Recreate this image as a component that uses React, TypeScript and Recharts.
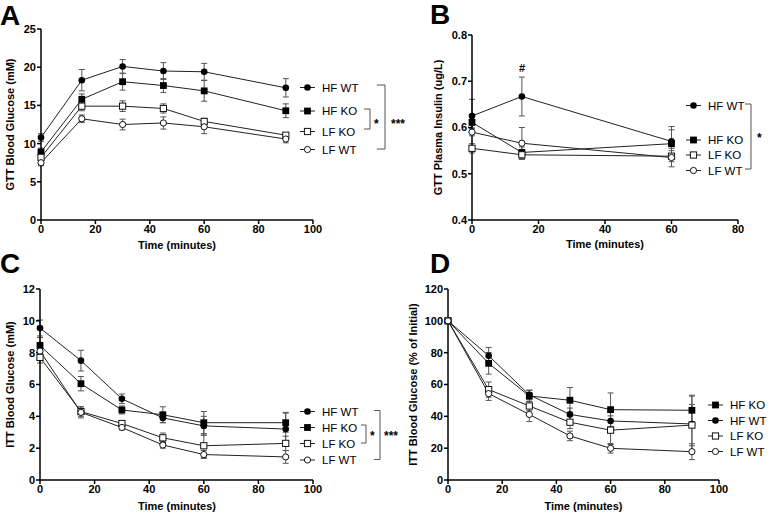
import React from 'react';
import { LineChart, Line, XAxis, YAxis, ErrorBar } from 'recharts';

const FONT = '"Liberation Sans", Arial, Helvetica, sans-serif';

// GTT blood glucose (panel A)
const gttTimes = [0, 15, 30, 45, 60, 90];
const gttHfWt = [10.8, 18.3, 20.1, 19.5, 19.4, 17.3];
const gttHfWtErr = [0.5, 1.4, 0.9, 1.1, 1.1, 1.2];
const gttHfKo = [8.9, 15.8, 18.1, 17.6, 16.9, 14.3];
const gttHfKoErr = [0.5, 0.7, 1.1, 0.9, 1.35, 0.9];
const gttLfKo = [8.2, 14.9, 14.9, 14.6, 12.9, 11.1];
const gttLfKoErr = [0.5, 0.6, 0.7, 0.6, 0.4, 0.3];
const gttLfWt = [7.5, 13.25, 12.5, 12.7, 12.2, 10.6];
const gttLfWtErr = [0.4, 0.5, 0.7, 0.8, 0.9, 0.5];

// GTT plasma insulin (panel B)
const insTimes = [0, 15, 60];
const insHfWt = [0.625, 0.667, 0.57];
const insHfWtErr = [0.036, 0.042, 0.032];
const insHfKo = [0.611, 0.546, 0.565];
const insHfKoErr = [0.012, 0.012, 0.03];
const insLfKo = [0.555, 0.541, 0.538];
const insLfKoErr = [0.01, 0.01, 0.012];
const insLfWt = [0.59, 0.566, 0.535];
const insLfWtErr = [0.008, 0.034, 0.02];

// ITT blood glucose (panel C)
const ittTimes = [0, 15, 30, 45, 60, 90];
const ittHfWt = [9.55, 7.5, 5.1, 3.9, 3.4, 3.2];
const ittHfWtErr = [0.5, 0.65, 0.3, 0.3, 0.6, 1.05];
const ittHfKo = [8.45, 6.05, 4.4, 4.1, 3.6, 3.6];
const ittHfKoErr = [0.5, 0.45, 0.25, 0.5, 0.7, 0.6];
const ittLfKo = [7.7, 4.3, 3.55, 2.65, 2.15, 2.3];
const ittLfKoErr = [0.35, 0.3, 0.15, 0.3, 0.75, 0.45];
const ittLfWt = [8.1, 4.25, 3.3, 2.2, 1.6, 1.45];
const ittLfWtErr = [0.55, 0.35, 0.15, 0.2, 0.25, 0.4];

// ITT % of initial (panel D)
const pctTimes = [0, 15, 30, 45, 60, 90];
const pctHfKo = [100, 73.3, 52.8, 50.1, 44.2, 43.8];
const pctHfKoErr = [0, 6.8, 3.5, 8, 10.5, 9.5];
const pctHfWt = [100, 78.1, 53.5, 41.2, 37.1, 35.2];
const pctHfWtErr = [0, 5.2, 3, 4, 6, 17.5];
const pctLfKo = [100, 56.8, 46.5, 36.3, 31.3, 34.5];
const pctLfKoErr = [0, 4.8, 3, 4, 9, 13];
const pctLfWt = [100, 54.3, 41.2, 27.7, 19.9, 17.8];
const pctLfWtErr = [0, 4.3, 4.5, 3, 3, 5];

type Kind = 'fc' | 'fs' | 'os' | 'oc';

interface Series {
  key: string;
  name: string;
  kind: Kind;
  values: number[];
  errors: number[];
}

const Marker = ({ kind, cx, cy }: { kind: Kind; cx: number; cy: number }) => {
  if (kind === 'fc') return <circle cx={cx} cy={cy} r={3.3} fill="#000" />;
  if (kind === 'oc') return <circle cx={cx} cy={cy} r={3.1} fill="#fff" stroke="#111" strokeWidth={1} />;
  const s = kind === 'fs' ? 6.8 : 6.2;
  return (
    <rect
      x={cx - s / 2}
      y={cy - s / 2}
      width={s}
      height={s}
      fill={kind === 'fs' ? '#000' : '#fff'}
      stroke="#111"
      strokeWidth={kind === 'os' ? 1 : 0}
    />
  );
};

const buildRows = (times: number[], series: Series[]) =>
  times.map((t, i) => {
    const row: any = { t };
    series.forEach((s) => {
      row[s.key] = s.values[i];
      row[s.key + 'Err'] = s.errors[i];
    });
    return row;
  });

const gttSeries: Series[] = [
  { key: 'hfWt', name: 'HF WT', kind: 'fc', values: gttHfWt, errors: gttHfWtErr },
  { key: 'hfKo', name: 'HF KO', kind: 'fs', values: gttHfKo, errors: gttHfKoErr },
  { key: 'lfKo', name: 'LF KO', kind: 'os', values: gttLfKo, errors: gttLfKoErr },
  { key: 'lfWt', name: 'LF WT', kind: 'oc', values: gttLfWt, errors: gttLfWtErr },
];
const insSeries: Series[] = [
  { key: 'hfWt', name: 'HF WT', kind: 'fc', values: insHfWt, errors: insHfWtErr },
  { key: 'hfKo', name: 'HF KO', kind: 'fs', values: insHfKo, errors: insHfKoErr },
  { key: 'lfKo', name: 'LF KO', kind: 'os', values: insLfKo, errors: insLfKoErr },
  { key: 'lfWt', name: 'LF WT', kind: 'oc', values: insLfWt, errors: insLfWtErr },
];
const ittSeries: Series[] = [
  { key: 'hfWt', name: 'HF WT', kind: 'fc', values: ittHfWt, errors: ittHfWtErr },
  { key: 'hfKo', name: 'HF KO', kind: 'fs', values: ittHfKo, errors: ittHfKoErr },
  { key: 'lfKo', name: 'LF KO', kind: 'os', values: ittLfKo, errors: ittLfKoErr },
  { key: 'lfWt', name: 'LF WT', kind: 'oc', values: ittLfWt, errors: ittLfWtErr },
];
const pctSeries: Series[] = [
  { key: 'hfKo', name: 'HF KO', kind: 'fs', values: pctHfKo, errors: pctHfKoErr },
  { key: 'hfWt', name: 'HF WT', kind: 'fc', values: pctHfWt, errors: pctHfWtErr },
  { key: 'lfKo', name: 'LF KO', kind: 'os', values: pctLfKo, errors: pctLfKoErr },
  { key: 'lfWt', name: 'LF WT', kind: 'oc', values: pctLfWt, errors: pctLfWtErr },
];

interface PanelProps {
  left: number;
  top: number;
  w: number;
  h: number;
  mt: number;
  mr: number;
  yWidth: number;
  xHeight: number;
  series: Series[];
  times: number[];
  xMax: number;
  xTicks: number[];
  yDomain: [number, number];
  yTicks: number[];
  yFmt?: (v: number) => string;
}

const axisStyle = { stroke: '#000', strokeWidth: 1.5 };
const tickStyle = { fontSize: 11, fontWeight: 'bold', fill: '#000', fontFamily: FONT };

const Panel = (p: PanelProps) => {
  const rows = buildRows(p.times, p.series);
  return (
    <div style={{ position: 'absolute', left: p.left, top: p.top }}>
      <LineChart width={p.w} height={p.h} data={rows} margin={{ top: p.mt, right: p.mr, left: 0, bottom: 0 }}>
        <XAxis
          type="number"
          dataKey="t"
          domain={[0, p.xMax]}
          ticks={p.xTicks}
          interval={0}
          height={p.xHeight}
          tick={tickStyle}
          tickSize={4}
          tickMargin={1}
          axisLine={axisStyle}
          tickLine={axisStyle}
        />
        <YAxis
          type="number"
          domain={p.yDomain}
          ticks={p.yTicks}
          interval={0}
          width={p.yWidth}
          tick={tickStyle}
          tickSize={4}
          tickMargin={1}
          tickFormatter={p.yFmt}
          axisLine={axisStyle}
          tickLine={axisStyle}
        />
        {p.series.map((s) => (
          <Line
            key={s.key}
            type="linear"
            dataKey={s.key}
            stroke="#222"
            strokeWidth={1}
            isAnimationActive={false}
            dot={(d: any) => <Marker key={`${s.key}-${d.index}`} kind={s.kind} cx={d.cx} cy={d.cy} />}
            activeDot={false}
          >
            <ErrorBar dataKey={s.key + 'Err'} direction="y" width={3} stroke="#555" strokeWidth={1} isAnimationActive={false} />
          </Line>
        ))}
      </LineChart>
    </div>
  );
};

interface LegendRow {
  name: string;
  kind: Kind;
  y: number;
}

const LegendBlock = ({ x1, x2, tx, rows }: { x1: number; x2: number; tx: number; rows: LegendRow[] }) => (
  <g>
    {rows.map((r) => (
      <g key={r.name}>
        <line x1={x1} x2={x2} y1={r.y} y2={r.y} stroke="#222" strokeWidth={1} />
        <Marker kind={r.kind} cx={(x1 + x2) / 2} cy={r.y} />
        <text x={tx} y={r.y} dy="0.36em" fontSize={11.5} fill="#000">
          {r.name}
        </text>
      </g>
    ))}
  </g>
);

const Bracket = ({ x0, x, y0, y1 }: { x0: number; x: number; y0: number; y1: number }) => (
  <path d={`M${x0},${y0} H${x} V${y1} H${x0}`} fill="none" stroke="#555" strokeWidth={1} />
);

const Stars = ({ x, y, text }: { x: number; y: number; text: string }) => (
  <text x={x} y={y + 7} fontSize={12} fontWeight="bold" fill="#000">
    {text}
  </text>
);

const YTitle = ({ x, y, text }: { x: number; y: number; text: string }) => (
  <text transform={`translate(${x},${y}) rotate(-90)`} textAnchor="middle" dy="0.36em" fontSize={11} fontWeight="bold" fill="#000">
    {text}
  </text>
);

const XTitle = ({ x, y, text }: { x: number; y: number; text: string }) => (
  <text x={x} y={y} textAnchor="middle" dy="0.36em" fontSize={11} fontWeight="bold" fill="#000">
    {text}
  </text>
);

const Letter = ({ x, y, text }: { x: number; y: number; text: string }) => (
  <text x={x} y={y} fontSize={28} fontWeight="bold" fill="#000">
    {text}
  </text>
);

const App = () => {
  return (
    <div style={{ position: 'relative', width: 768, height: 514, background: '#fff', fontFamily: FONT, overflow: 'hidden' }}>
      <style>{'body{margin:0}'}</style>
      <Panel
        left={0} top={0} w={330} h={252} mt={29} mr={17} yWidth={41} xHeight={32}
        series={gttSeries} times={gttTimes} xMax={100} xTicks={[0, 20, 40, 60, 80, 100]}
        yDomain={[0, 25]} yTicks={[0, 5, 10, 15, 20, 25]}
      />
      <Panel
        left={400} top={0} w={368} h={252} mt={35} mr={30} yWidth={72} xHeight={32}
        series={insSeries} times={insTimes} xMax={80} xTicks={[0, 20, 40, 60, 80]}
        yDomain={[0.4, 0.8]} yTicks={[0.4, 0.5, 0.6, 0.7, 0.8]} yFmt={(v) => v.toFixed(1)}
      />
      <Panel
        left={0} top={250} w={330} h={264} mt={39} mr={17} yWidth={40} xHeight={34}
        series={ittSeries} times={ittTimes} xMax={100} xTicks={[0, 20, 40, 60, 80, 100]}
        yDomain={[0, 12]} yTicks={[0, 2, 4, 6, 8, 10, 12]}
      />
      <Panel
        left={400} top={250} w={340} h={264} mt={39} mr={21} yWidth={48} xHeight={34}
        series={pctSeries} times={pctTimes} xMax={100} xTicks={[0, 20, 40, 60, 80, 100]}
        yDomain={[0, 120]} yTicks={[0, 20, 40, 60, 80, 100, 120]}
      />
      <svg
        width={768}
        height={514}
        style={{ position: 'absolute', left: 0, top: 0, pointerEvents: 'none' }}
        fontFamily={FONT}
      >
        <Letter x={0} y={25} text="A" />
        <Letter x={430} y={24} text="B" />
        <Letter x={0} y={273} text="C" />
        <Letter x={430} y={273} text="D" />

        <YTitle x={10} y={124.5} text="GTT Blood Glucose (mM)" />
        <XTitle x={177} y={245} text="Time (minutes)" />
        <YTitle x={438} y={127.5} text="GTT Plasma Insulin (ug/L)" />
        <XTitle x={605} y={244.5} text="Time (minutes)" />
        <YTitle x={10} y={384.5} text="ITT Blood Glucose (mM)" />
        <XTitle x={177} y={506.5} text="Time (minutes)" />
        <YTitle x={413} y={384.5} text="ITT Blood Glucose (% of Initial)" />
        <XTitle x={583.5} y={506.5} text="Time (minutes)" />

        <text x={522} y={68} dy="0.36em" textAnchor="middle" fontSize={11} fontWeight="bold" fill="#000">
          #
        </text>

        <LegendBlock
          x1={300} x2={315} tx={322}
          rows={[
            { name: 'HF WT', kind: 'fc', y: 87.5 },
            { name: 'HF KO', kind: 'fs', y: 111 },
            { name: 'LF KO', kind: 'os', y: 131.5 },
            { name: 'LF WT', kind: 'oc', y: 149.5 },
          ]}
        />
        <Bracket x0={364} x={370} y0={109} y1={129} />
        <Stars x={374} y={121} text="*" />
        <Bracket x0={377} x={385} y0={85} y1={149} />
        <Stars x={391} y={121} text="***" />

        <LegendBlock
          x1={686} x2={701} tx={708}
          rows={[
            { name: 'HF WT', kind: 'fc', y: 105.5 },
            { name: 'HF KO', kind: 'fs', y: 140 },
            { name: 'LF KO', kind: 'os', y: 155 },
            { name: 'LF WT', kind: 'oc', y: 170.5 },
          ]}
        />
        <Bracket x0={745} x={751} y0={104} y1={169} />
        <Stars x={757} y={135} text="*" />

        <LegendBlock
          x1={300} x2={315} tx={322}
          rows={[
            { name: 'HF WT', kind: 'fc', y: 411.5 },
            { name: 'HF KO', kind: 'fs', y: 427.5 },
            { name: 'LF KO', kind: 'os', y: 443.5 },
            { name: 'LF WT', kind: 'oc', y: 460 },
          ]}
        />
        <Bracket x0={361} x={366} y0={425} y1={443} />
        <Stars x={370} y={433} text="*" />
        <Bracket x0={374} x={380} y0={410.5} y1={459.5} />
        <Stars x={384} y={433} text="***" />

        <LegendBlock
          x1={708} x2={723} tx={730}
          rows={[
            { name: 'HF KO', kind: 'fs', y: 405 },
            { name: 'HF WT', kind: 'fc', y: 420.5 },
            { name: 'LF KO', kind: 'os', y: 436 },
            { name: 'LF WT', kind: 'oc', y: 451.5 },
          ]}
        />
      </svg>
    </div>
  );
};

export default App;
